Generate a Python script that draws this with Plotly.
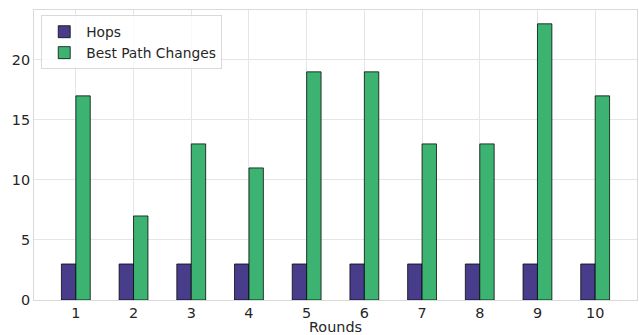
import plotly.graph_objects as go

rounds = [1, 2, 3, 4, 5, 6, 7, 8, 9, 10]
hops = [3, 3, 3, 3, 3, 3, 3, 3, 3, 3]
best_path_changes = [17, 7, 13, 11, 19, 19, 13, 13, 23, 17]

bar_width = 0.25
fs = 14.4
font = dict(family="DejaVu Sans", size=fs, color="#262626")
legend_font = dict(family="DejaVu Sans", size=13.8, color="#262626")

fig = go.Figure()
fig.add_trace(go.Bar(
    x=rounds, y=hops, name="Hops",
    width=bar_width, offset=-bar_width,
    marker=dict(color="#483D8B", line=dict(color="rgba(0,0,0,0.75)", width=1)),
))
fig.add_trace(go.Bar(
    x=rounds, y=best_path_changes, name="Best Path Changes",
    width=bar_width, offset=0,
    marker=dict(color="#3CB371", line=dict(color="rgba(0,0,0,0.75)", width=1)),
))

ymax = max(max(hops), max(best_path_changes)) * 1.05
xlo = min(rounds) - bar_width - 0.475
xhi = max(rounds) + bar_width + 0.475

fig.update_layout(
    width=639, height=335,
    margin=dict(l=34, r=2, t=10, b=35),
    plot_bgcolor="white", paper_bgcolor="white",
    font=font,
    barmode="overlay",
    showlegend=True,
    legend=dict(
        x=0.012, y=0.982, xanchor="left", yanchor="top",
        bgcolor="rgba(255,255,255,0.8)",
        bordercolor="#d9d9d9", borderwidth=1,
        font=legend_font,
        tracegroupgap=0,
        itemwidth=34,
    ),
    xaxis=dict(
        range=[xlo, xhi],
        tickmode="array", tickvals=rounds, ticktext=[str(r) for r in rounds],
        showgrid=True, gridcolor="#e5e5e5", gridwidth=1,
        showline=True, linecolor="#d9d9d9", linewidth=1, mirror=True,
        zeroline=False, ticks="",
        title=dict(text="Rounds", standoff=2, font=font),
        tickfont=font,
    ),
    yaxis=dict(
        range=[0, ymax],
        tickmode="array", tickvals=[0, 5, 10, 15, 20],
        showgrid=True, gridcolor="#e5e5e5", gridwidth=1,
        showline=True, linecolor="#d9d9d9", linewidth=1, mirror=True,
        zeroline=False, ticks="",
        tickfont=font,
    ),
)

fig.write_html("out.html")
